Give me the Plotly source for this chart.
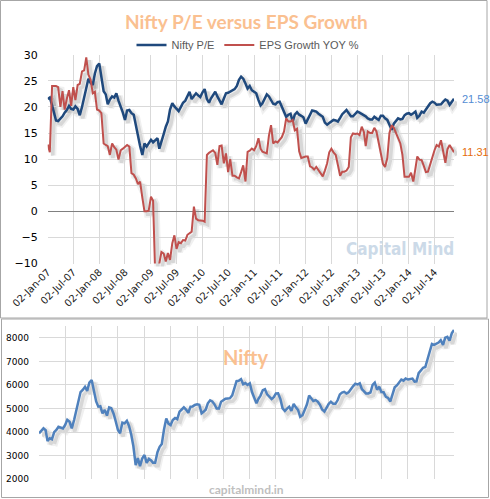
import plotly.graph_objects as go

W, H = 490, 499


def fx(x):
    return x / W


def fy(y):
    return 1 - y / H


# ---------------- data (semi-monthly samples, 2nd and 17th of each month) ----------------
DATES = [f"{y}-{m:02d}-{d:02d}" for y in range(2007, 2015) for m in range(1, 13) for d in (2, 17)][:190]
TICK_DATES = [f"{y}-{m:02d}-02" for y in range(2007, 2015) for m in (1, 7)]

PE = [
    21.5, 21.8, 20.3, 18.5, 17.4, 17.3, 17.8, 18.2, 18.9, 19.4, 20.2, 19.6, 19.5, 20.1, 19.6, 18.4, 20.0, 22.0, 23.5, 25.4, 24.6, 24.2, 26.4, 27.8,
    28.3, 26.0, 23.0, 22.4, 20.5, 21.4, 22.0, 21.8, 22.6, 21.2, 20.2, 18.9, 17.5, 19.3, 19.4, 18.8, 18.5, 16.5, 14.2, 12.5, 10.8, 13.0, 12.4, 13.0,
    13.7, 13.2, 13.7, 14.0, 12.0, 13.6, 14.8, 16.2, 17.2, 19.5, 20.7, 20.1, 19.6, 19.2, 20.0, 20.8, 21.2, 22.0, 22.9, 21.5, 22.0, 22.6, 22.2, 21.9,
    22.8, 23.4, 21.5, 20.8, 21.6, 22.2, 22.9, 22.0, 21.3, 20.5, 21.6, 22.6, 22.7, 22.9, 23.1, 23.4, 24.0, 25.2, 25.8, 25.4, 24.5, 23.5, 24.0, 23.2,
    22.9, 22.6, 21.3, 20.3, 20.7, 21.5, 22.4, 22.0, 21.3, 20.6, 20.5, 20.9, 21.0, 20.0, 19.0, 18.1, 18.5, 18.7, 17.2, 18.5, 19.0, 18.5, 18.3, 18.0,
    16.8, 17.6, 18.6, 19.3, 19.2, 19.1, 18.7, 18.4, 18.1, 17.0, 16.6, 16.9, 17.2, 17.5, 17.4, 17.2, 17.9, 18.6, 19.0, 19.4, 18.8, 18.2, 18.2, 18.6,
    19.1, 18.9, 18.7, 18.5, 18.2, 17.8, 17.6, 17.6, 18.1, 17.8, 17.5, 18.3, 18.3, 17.8, 17.5, 16.6, 15.6, 16.8, 17.3, 17.8, 17.6, 17.7, 18.4, 18.7,
    18.8, 18.5, 18.8, 19.1, 17.9, 18.3, 19.1, 18.9, 19.5, 20.2, 20.7, 21.0, 20.8, 20.4, 20.5, 20.5, 21.0, 21.4, 21.2, 20.4, 21.0, 21.58,
]

EPS = [
    12.8, 11.3, 24.0, 24.0, 24.0, 23.8, 20.0, 23.0, 19.5, 21.5, 23.2, 20.2, 23.8, 21.3, 24.2, 24.4, 26.8, 27.0, 29.5, 26.2, 25.2, 22.6, 22.9, 19.5,
    19.3, 18.8, 13.0, 12.7, 12.5, 10.8, 13.0, 12.3, 11.8, 9.9, 11.7, 12.0, 12.3, 12.7, 12.4, 7.3, 7.0, 6.3, 5.2, 5.7, 2.6, 0.0, 0.0, 0.1,
    2.8, 2.0, -13.0, -12.5, -10.0, -7.8, -8.1, -9.6, -8.0, -9.3, -6.1, -4.6, -7.2, -5.9, -6.1, -5.5, -5.6, -4.5, -4.2, -3.9, 0.9, -1.4, -1.7, -1.7,
    -1.8, -2.0, 10.8, 11.2, 11.4, 11.7, 11.2, 8.9, 12.5, 12.6, 9.2, 11.1, 7.5, 10.0, 6.8, 6.8, 6.5, 6.3, 7.5, 8.8, 5.7, 11.4, 11.6, 12.0,
    11.7, 12.5, 14.0, 12.0, 11.4, 11.3, 11.1, 14.5, 16.5, 13.0, 13.4, 13.2, 13.7, 14.2, 15.3, 17.8, 17.2, 17.2, 17.5, 15.5, 15.8, 11.5, 10.2, 10.4,
    10.5, 10.5, 8.6, 8.4, 8.0, 8.5, 7.9, 7.3, 6.7, 7.8, 9.2, 11.3, 12.0, 11.3, 10.8, 8.9, 6.8, 7.6, 7.6, 7.8, 8.5, 14.2, 14.9, 14.8,
    14.9, 14.6, 16.2, 15.2, 12.5, 15.3, 15.0, 15.0, 16.0, 15.3, 13.2, 10.8, 9.1, 8.5, 10.2, 15.0, 16.5, 16.0, 15.0, 14.3, 13.0, 10.8, 6.6, 6.6,
    6.6, 7.4, 5.7, 8.2, 10.5, 9.9, 9.8, 8.7, 7.5, 7.6, 9.1, 10.6, 11.7, 12.7, 12.4, 13.6, 11.1, 9.3, 11.9, 12.7, 12.0, 11.31,
]

NIFTY = [
    3950, 4050, 4160, 4080, 3620, 3740, 3700, 4000, 4090, 4230, 4200, 4160, 4300, 4520, 4440, 4160, 4510, 4900, 5250, 5700, 5800, 5925, 5750, 6100,
    6210, 5780, 5300, 5080, 5100, 4800, 4940, 4700, 5050, 5010, 4780, 4450, 4090, 3950, 4400, 4370, 4480, 4260, 3900, 3400, 2600, 2900, 2560, 2880,
    3030, 2700, 2870, 2800, 2700, 2700, 3150, 3380, 3500, 4100, 4580, 4360, 4300, 4510, 4600, 4550, 4870, 4960, 5050, 4960, 4820, 5080, 5090, 5150,
    5180, 5160, 4800, 4870, 4950, 5220, 5350, 5300, 5180, 5000, 5000, 5290, 5360, 5420, 5430, 5440, 5560, 5925, 6160, 6180, 6250, 6030, 6080, 6000,
    6070, 5700, 5450, 5220, 5400, 5550, 5780, 5820, 5600, 5500, 5400, 5480, 5640, 5650, 5400, 5010, 4900, 5000, 5080, 4900, 5200, 5050, 4940, 4650,
    4720, 4940, 5180, 5550, 5430, 5320, 5360, 5290, 5160, 4960, 4870, 5030, 5200, 5290, 5200, 5200, 5360, 5600, 5680, 5710, 5640, 5690, 5830, 5940,
    6050, 6020, 6070, 5820, 5740, 5640, 5640, 5680, 6000, 6100, 5800, 5925, 5700, 5690, 5500, 5450, 5300, 5640, 5900, 5980, 6140, 6230, 6180, 6270,
    6230, 6250, 6270, 6140, 6150, 6500, 6630, 6730, 6760, 7050, 7400, 7740, 7700, 7750, 7800, 7900, 7700, 8000, 8040, 7880, 8200, 8330,
]

PE_NAME = "Nifty P/E"
EPS_NAME = "EPS Growth YOY %"
TITLE = "Nifty P/E versus EPS Growth"
Y_TOP_TICKS = [-10, -5, 0, 5, 10, 15, 20, 25, 30]
Y_BOT_TICKS = [2000, 3000, 4000, 5000, 6000, 7000, 8000]

# ---------------- styling ----------------
BLUE = "#1F497D"
RED = "#C0504D"
NIFTY_BLUE = "#4F81BD"
GRID = "#D9D9D9"
XR = [DATES[0], DATES[-1]]

# plot-area pixel boxes
TOP = dict(l=47.7, r=454, t=54.7, b=263.5)
BOT = dict(l=39, r=454, t=326, b=479.3)
SH = 3  # shadow offset in px

fig = go.Figure()

# soft shadows (drawn first, on shifted hidden axes)
for series, xa, ya in ((PE, "x", "y"), (EPS, "x", "y"), (NIFTY, "x2", "y2")):
    fig.add_trace(go.Scatter(x=DATES, y=series, xaxis=xa, yaxis=ya, mode="lines",
                             line=dict(color="rgba(0,0,0,0.06)", width=7), hoverinfo="skip", showlegend=False))
    fig.add_trace(go.Scatter(x=DATES, y=series, xaxis=xa, yaxis=ya, mode="lines",
                             line=dict(color="rgba(0,0,0,0.10)", width=3.5), hoverinfo="skip", showlegend=False))

# main lines
fig.add_trace(go.Scatter(x=DATES, y=PE, xaxis="x3", yaxis="y3", mode="lines", name=PE_NAME,
                         line=dict(color=BLUE, width=2.5)))
fig.add_trace(go.Scatter(x=DATES, y=EPS, xaxis="x3", yaxis="y3", mode="lines", name=EPS_NAME,
                         line=dict(color=RED, width=2)))
fig.add_trace(go.Scatter(x=DATES, y=NIFTY, xaxis="x4", yaxis="y4", mode="lines", name="Nifty",
                         line=dict(color=NIFTY_BLUE, width=2.5), showlegend=False))

hidden = dict(visible=False, showgrid=False, zeroline=False, fixedrange=True, automargin=False)

fig.update_layout(
    width=W, height=H,
    autosize=False,
    margin=dict(l=0, r=0, t=0, b=0, pad=0, autoexpand=False),
    paper_bgcolor="white",
    plot_bgcolor="rgba(0,0,0,0)",
    showlegend=True,
    legend=dict(orientation="h", x=fx(248), xanchor="center", y=fy(45), yanchor="middle",
                font=dict(family="Liberation Sans, Arial, sans-serif", size=11, color="#595959"),
                bgcolor="rgba(0,0,0,0)", itemwidth=30, traceorder="normal"),
    xaxis=dict(domain=[fx(TOP["l"] + SH), fx(TOP["r"] + SH)], range=XR, type="date", anchor="y", **hidden),
    yaxis=dict(domain=[fy(TOP["b"] + SH), fy(TOP["t"] + SH)], range=[-10, 30], anchor="x", **hidden),
    xaxis2=dict(domain=[fx(BOT["l"] + SH), fx(BOT["r"] + SH)], range=XR, type="date", anchor="y2", **hidden),
    yaxis2=dict(domain=[fy(BOT["b"] + SH), fy(BOT["t"] + SH)], range=[2000, 8500], anchor="x2", **hidden),
    xaxis3=dict(domain=[fx(TOP["l"]), fx(TOP["r"])], range=XR, type="date", anchor="y3",
                tickvals=TICK_DATES, tickformat="%d-%b-%y", tickangle=-45,
                tickfont=dict(family="DejaVu Sans, sans-serif", size=10, color="#1a1a1a"),
                showgrid=True, gridcolor=GRID, gridwidth=1, zeroline=False, showline=False,
                ticks="", fixedrange=True, automargin=False),
    yaxis3=dict(domain=[fy(TOP["b"]), fy(TOP["t"])], range=[-10, 30], anchor="x3",
                tickvals=Y_TOP_TICKS, tickfont=dict(family="DejaVu Sans, sans-serif", size=11, color="#000000"),
                showgrid=True, gridcolor=GRID, gridwidth=1, zeroline=True, zerolinecolor="#808080",
                zerolinewidth=1, showline=False, ticks="", ticklabelstandoff=9, fixedrange=True,
                automargin=False),
    xaxis4=dict(domain=[fx(BOT["l"]), fx(BOT["r"])], range=XR, type="date", anchor="y4",
                tickvals=TICK_DATES, showticklabels=False,
                showgrid=True, gridcolor=GRID, gridwidth=1, zeroline=False, showline=False,
                ticks="", fixedrange=True, automargin=False),
    yaxis4=dict(domain=[fy(BOT["b"]), fy(BOT["t"])], range=[2000, 8500], anchor="x4",
                tickvals=Y_BOT_TICKS, tickfont=dict(family="DejaVu Sans, sans-serif", size=9, color="#000000"),
                showgrid=True, gridcolor=GRID, gridwidth=1, zeroline=False, showline=False,
                ticks="", ticklabelstandoff=9, fixedrange=True, automargin=False),
)

# frames around the two panels
fig.add_shape(type="rect", xref="paper", yref="paper", x0=fx(0.5), x1=fx(487), y0=fy(318), y1=fy(0.5),
              line=dict(color="#A6A6A6", width=1), fillcolor="rgba(0,0,0,0)", layer="below")
fig.add_shape(type="rect", xref="paper", yref="paper", x0=fx(1.5), x1=fx(488.5), y0=fy(497.5), y1=fy(319),
              line=dict(color="#A6A6A6", width=1), fillcolor="rgba(0,0,0,0)", layer="below")

annotations = [
    dict(text=f"<b>{TITLE}</b>", xref="paper", yref="paper", x=fx(246), y=fy(21), xanchor="center",
         yanchor="middle", showarrow=False, font=dict(family="Lato, sans-serif", size=19, color="#FAC090")),
    dict(text=f"{PE[-1]:.2f}", xref="x3", yref="y3", x=DATES[-1], y=PE[-1], xanchor="left", yanchor="middle",
         xshift=6, showarrow=False, font=dict(family="Liberation Sans, Arial, sans-serif", size=11, color="#548DD4")),
    dict(text=f"{EPS[-1]:.2f}", xref="x3", yref="y3", x=DATES[-1], y=EPS[-1], xanchor="left", yanchor="middle",
         xshift=6, showarrow=False, font=dict(family="Liberation Sans, Arial, sans-serif", size=11, color="#E46C0A")),
    dict(text="<b>Capital Mind</b>", xref="paper", yref="paper", x=fx(400), y=fy(249), xanchor="center",
         yanchor="middle", showarrow=False,
         font=dict(family="DejaVu Sans Condensed, DejaVu Sans, sans-serif", size=17, color="#CCDAE8")),
    dict(text="<b>Nifty</b>", xref="paper", yref="paper", x=fx(246), y=fy(357), xanchor="center",
         yanchor="middle", showarrow=False, font=dict(family="Lato, sans-serif", size=20, color="#FAC090")),
    dict(text="<b>capitalmind.in</b>", xref="paper", yref="paper", x=fx(246), y=fy(489), xanchor="center",
         yanchor="middle", showarrow=False, font=dict(family="Lato, sans-serif", size=12, color="#BFBFBF")),
]
fig.update_layout(annotations=annotations)

fig.write_html("out.html", config={"displayModeBar": False},
               post_script="document.body.style.margin='0';document.body.style.overflow='hidden';")
